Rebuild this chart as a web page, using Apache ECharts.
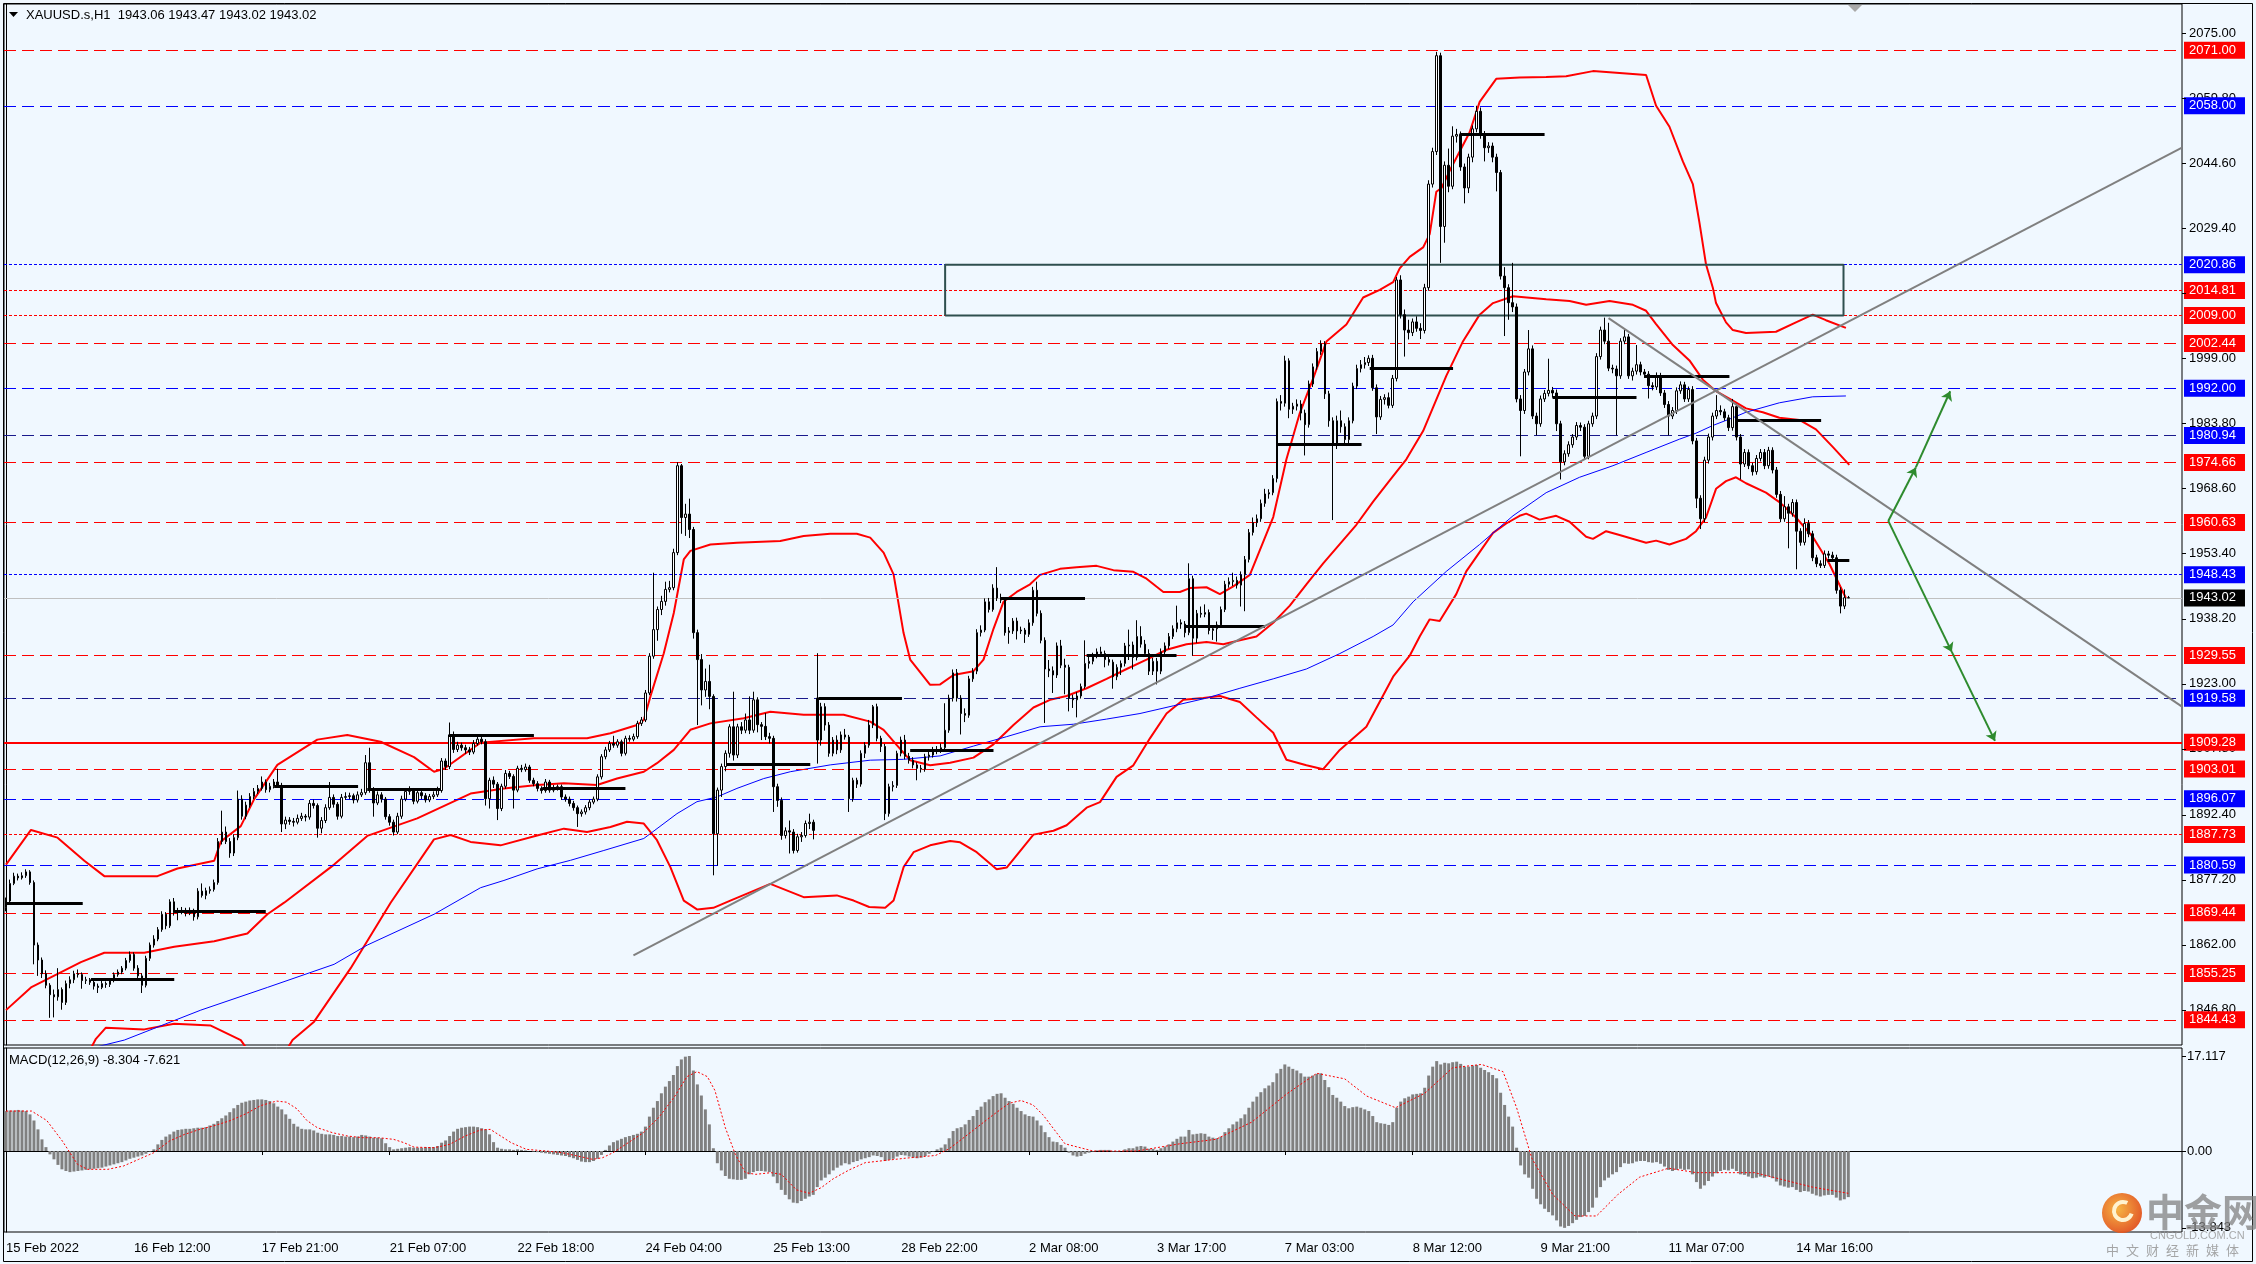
<!DOCTYPE html>
<html>
<head>
<meta charset="utf-8">
<title>XAUUSD.s,H1</title>
<script src="https://cdn.jsdelivr.net/npm/echarts@6.0.0/dist/echarts.min.js"></script>
<style>
  html, body { margin: 0; padding: 0; background: #f0f8ff; }
  #chart { width: 2256px; height: 1264px; }
</style>
</head>
<body>
<div id="chart"></div>
<script>
// ---------- data ----------
const timeLabels = ['15 Feb 2022', '16 Feb 12:00', '17 Feb 21:00', '21 Feb 07:00', '22 Feb 18:00',
  '24 Feb 04:00', '25 Feb 13:00', '28 Feb 22:00', '2 Mar 08:00', '3 Mar 17:00',
  '7 Mar 03:00', '8 Mar 12:00', '9 Mar 21:00', '11 Mar 07:00', '14 Mar 16:00'];
const timeTickBars = [0, 32, 64, 96, 128, 160, 192, 224, 256, 288, 320, 352, 384, 416, 448];

const priceTicks = [2075.00, 2059.80, 2044.60, 2029.40, 2014.20, 1999.00, 1983.80, 1968.60,
  1953.40, 1938.20, 1923.00, 1907.80, 1892.40, 1877.20, 1862.00, 1846.80];
const macdTicks = [17.117, 0, -13.843];

// H1 bars: [open, high, low, close]
const candles = [
  [1870.6,1873.0,1869.8,1872.2],[1872.2,1877.2,1871.6,1876.3],[1876.3,1878.8,1875.9,1878.0],[1878.0,1878.6,1877.0,1877.6],[1877.6,1878.9,1877.2,1878.1],
  [1878.1,1879.6,1877.6,1879.0],[1879.0,1879.4,1876.0,1876.5],[1876.5,1877.0,1857.4,1861.9],[1861.9,1862.5,1854.7,1858.4],[1858.4,1859.0,1854.2,1855.2],
  // 10
  [1855.2,1856.0,1851.8,1852.5],[1852.5,1853.0,1844.9,1850.3],[1850.3,1851.5,1845.0,1849.8],[1849.8,1856.5,1848.9,1851.5],[1851.5,1852.0,1846.8,1848.5],
  [1848.5,1853.6,1847.9,1852.9],[1852.9,1854.6,1851.8,1853.8],[1853.8,1855.9,1853.0,1855.2],[1855.2,1856.2,1854.3,1855.0],[1855.0,1855.5,1851.7,1853.6],
  // 20
  [1853.6,1854.5,1852.8,1853.8],[1853.8,1854.2,1852.6,1853.2],[1853.2,1853.6,1851.5,1852.3],[1852.3,1852.9,1850.7,1852.0],[1852.0,1853.5,1851.6,1852.9],
  [1852.9,1853.4,1851.9,1852.7],[1852.7,1854.1,1852.1,1853.6],[1853.6,1855.5,1853.2,1855.0],[1855.0,1856.2,1854.5,1855.6],[1855.6,1857.0,1855.1,1856.5],
  // 30
  [1856.5,1858.9,1856.0,1858.3],[1858.3,1860.4,1857.8,1859.7],[1859.7,1860.2,1855.9,1856.5],[1856.5,1857.2,1854.0,1854.7],[1854.7,1855.3,1850.7,1852.5],
  [1852.5,1859.4,1852.0,1858.8],[1858.8,1862.5,1858.2,1861.9],[1861.9,1864.2,1861.3,1863.3],[1863.3,1866.1,1862.8,1865.5],[1865.5,1869.8,1865.0,1869.1],
  // 40
  [1869.1,1869.6,1865.6,1866.4],[1866.4,1872.6,1865.9,1872.0],[1872.0,1872.9,1868.8,1869.5],[1869.5,1870.6,1867.7,1869.8],[1869.8,1870.8,1869.1,1870.0],
  [1870.0,1870.6,1868.6,1869.3],[1869.3,1870.7,1868.9,1870.0],[1870.0,1870.4,1867.6,1868.5],[1868.5,1875.2,1867.9,1874.5],[1874.5,1876.3,1873.0,1873.5],
  // 50
  [1873.5,1875.3,1872.6,1874.6],[1874.6,1875.6,1873.9,1874.9],[1874.9,1877.2,1874.4,1876.5],[1876.5,1886.9,1876.0,1886.1],[1886.1,1893.3,1885.4,1888.3],
  [1888.3,1889.6,1885.5,1886.1],[1886.1,1886.9,1882.3,1883.4],[1883.4,1887.8,1882.7,1887.0],[1887.0,1898.0,1886.4,1896.0],[1896.0,1896.9,1891.2,1892.0],
  // 60
  [1892.0,1895.4,1891.3,1894.6],[1894.6,1897.4,1894.0,1896.6],[1896.6,1898.6,1896.0,1897.8],[1897.8,1899.3,1897.2,1898.5],[1898.5,1901.3,1898.0,1900.0],
  [1900.0,1900.6,1897.5,1898.2],[1898.2,1899.8,1897.6,1899.0],[1899.0,1900.7,1898.5,1900.0],[1900.0,1903.1,1898.6,1899.2],[1899.2,1899.8,1888.3,1890.2],
  // 70
  [1890.2,1891.9,1889.0,1891.1],[1891.1,1891.8,1890.0,1890.8],[1890.8,1891.6,1889.6,1890.6],[1890.6,1892.4,1890.1,1891.5],[1891.5,1892.8,1890.9,1892.0],
  [1892.0,1892.5,1890.8,1891.8],[1891.8,1895.8,1891.2,1895.0],[1895.0,1895.9,1893.8,1894.5],[1894.5,1895.0,1887.0,1889.2],[1889.2,1891.8,1888.0,1891.0],
  // 80
  [1891.0,1894.8,1890.4,1894.0],[1894.0,1900.0,1893.5,1896.4],[1896.4,1897.1,1894.0,1894.8],[1894.8,1895.3,1891.2,1892.0],[1892.0,1897.2,1891.5,1896.4],
  [1896.4,1897.6,1895.8,1896.6],[1896.6,1897.5,1896.0,1896.8],[1896.8,1897.3,1895.0,1895.8],[1895.8,1897.8,1895.2,1897.0],[1897.0,1898.4,1896.5,1897.5],
  // 90
  [1897.5,1906.3,1897.0,1904.5],[1904.5,1908.0,1897.5,1898.2],[1898.2,1898.8,1891.9,1895.1],[1895.1,1897.8,1894.6,1897.0],[1897.0,1897.6,1895.2,1896.0],
  [1896.0,1896.5,1891.2,1891.9],[1891.9,1892.5,1889.8,1890.6],[1890.6,1891.2,1887.5,1888.3],[1888.3,1892.8,1887.8,1892.0],[1892.0,1896.8,1891.4,1896.0],
  // 100
  [1896.0,1898.6,1895.5,1897.8],[1897.8,1899.0,1897.0,1898.0],[1898.0,1898.6,1894.8,1895.5],[1895.5,1898.3,1895.0,1897.5],[1897.5,1898.1,1896.0,1896.8],
  [1896.8,1897.4,1895.2,1895.8],[1895.8,1897.2,1895.3,1896.6],[1896.6,1897.8,1896.0,1897.0],[1897.0,1898.9,1896.5,1898.0],[1898.0,1905.6,1897.5,1904.9],
  // 110
  [1904.9,1905.5,1902.8,1903.6],[1903.6,1913.9,1903.0,1911.0],[1911.0,1911.8,1906.8,1907.6],[1907.6,1909.4,1907.0,1908.6],[1908.6,1909.2,1907.3,1908.0],
  [1908.0,1908.7,1906.6,1907.5],[1907.5,1908.2,1906.3,1907.0],[1907.0,1909.8,1906.5,1909.0],[1909.0,1910.8,1908.5,1910.0],[1910.0,1911.2,1908.8,1909.4],
  // 120
  [1909.4,1910.0,1894.5,1896.1],[1896.1,1901.0,1893.8,1900.4],[1900.4,1901.3,1898.6,1899.5],[1899.5,1900.0,1891.1,1893.8],[1893.8,1899.6,1893.2,1899.0],
  [1899.0,1902.8,1898.4,1902.0],[1902.0,1902.6,1900.7,1901.3],[1901.3,1901.8,1893.8,1898.1],[1898.1,1903.8,1897.6,1903.2],[1903.2,1904.0,1902.3,1902.9],
  // 130
  [1902.9,1904.3,1902.4,1903.5],[1903.5,1904.0,1899.8,1900.4],[1900.4,1901.0,1899.0,1899.6],[1899.6,1900.2,1897.8,1898.5],[1898.5,1899.0,1897.3,1898.0],
  [1898.0,1900.7,1897.5,1900.0],[1900.0,1900.5,1897.5,1898.1],[1898.1,1899.3,1897.6,1898.6],[1898.6,1899.4,1898.0,1898.9],[1898.9,1899.4,1895.8,1896.5],
  // 140
  [1896.5,1897.1,1895.4,1896.0],[1896.0,1896.6,1894.3,1895.0],[1895.0,1895.6,1893.3,1894.0],[1894.0,1894.5,1889.5,1892.6],[1892.6,1893.6,1891.9,1893.0],
  [1893.0,1894.6,1892.4,1894.0],[1894.0,1895.9,1893.4,1895.3],[1895.3,1896.6,1894.8,1896.0],[1896.0,1901.8,1895.5,1901.2],[1901.2,1906.5,1900.6,1905.9],
  // 150
  [1905.9,1908.2,1905.3,1907.5],[1907.5,1909.6,1907.0,1909.0],[1909.0,1910.8,1908.0,1908.6],[1908.6,1910.0,1908.0,1909.4],[1909.4,1909.9,1906.0,1906.7],
  [1906.7,1910.8,1906.2,1910.2],[1910.2,1910.9,1909.4,1910.0],[1910.0,1911.3,1909.5,1910.6],[1910.6,1914.3,1910.1,1913.7],[1913.7,1915.2,1913.1,1914.5],
  // 160
  [1914.5,1921.5,1914.0,1920.8],[1920.8,1930.1,1920.3,1929.4],[1929.4,1948.9,1928.8,1935.6],[1935.6,1941.0,1933.0,1940.3],[1940.3,1943.5,1939.0,1942.2],
  [1942.2,1946.8,1941.2,1945.0],[1945.0,1947.0,1944.3,1945.4],[1945.4,1954.5,1944.8,1953.6],[1953.6,1974.7,1953.0,1973.9],[1973.9,1974.3,1958.0,1961.8],
  // 170
  [1961.8,1965.0,1957.5,1962.6],[1962.6,1966.2,1957.0,1959.0],[1959.0,1959.6,1933.5,1934.9],[1934.9,1935.6,1913.3,1928.6],[1928.6,1929.9,1917.9,1921.5],
  [1921.5,1926.5,1919.9,1923.5],[1923.5,1927.4,1917.0,1920.0],[1920.0,1920.5,1878.2,1887.9],[1887.9,1898.7,1880.5,1898.1],[1898.1,1904.3,1896.5,1903.6],
  // 180
  [1903.6,1907.4,1902.5,1906.7],[1906.7,1913.5,1905.7,1912.9],[1912.9,1921.1,1905.0,1906.3],[1906.3,1913.6,1905.6,1912.9],[1912.9,1914.0,1911.2,1912.1],
  [1912.1,1916.0,1911.4,1914.5],[1914.5,1920.0,1911.2,1912.1],[1912.1,1921.1,1911.5,1919.2],[1919.2,1919.8,1911.6,1913.4],[1913.4,1914.0,1909.8,1913.0],
  // 190
  [1913.0,1916.1,1909.8,1910.6],[1910.6,1911.5,1909.0,1910.2],[1910.2,1910.8,1893.0,1898.9],[1898.9,1899.6,1894.2,1895.7],[1895.7,1896.4,1886.5,1887.5],
  [1887.5,1889.4,1886.8,1888.6],[1888.6,1891.0,1883.3,1888.3],[1888.3,1889.0,1883.3,1884.0],[1884.0,1887.9,1883.5,1887.2],[1887.2,1888.3,1886.0,1887.5],
  // 200
  [1887.5,1891.0,1887.0,1890.3],[1890.3,1892.6,1889.0,1890.6],[1890.6,1891.2,1886.6,1888.7],[1919.6,1930.1,1904.3,1909.8],[1909.8,1918.5,1908.5,1917.6],
  [1917.6,1918.4,1912.0,1913.3],[1913.3,1914.0,1905.9,1906.7],[1906.7,1910.5,1906.0,1909.8],[1909.8,1910.9,1906.5,1907.5],[1907.5,1911.8,1906.8,1911.0],
  // 210
  [1911.0,1912.4,1909.9,1910.5],[1910.5,1911.0,1893.0,1896.1],[1896.1,1901.0,1895.4,1900.4],[1900.4,1901.0,1898.6,1899.5],[1899.5,1907.4,1898.9,1906.7],
  [1906.7,1909.3,1905.6,1908.6],[1908.6,1914.5,1908.0,1913.3],[1913.3,1918.0,1912.6,1917.6],[1917.6,1918.3,1909.5,1910.2],[1910.2,1910.8,1907.0,1908.3],
  // 220
  [1908.3,1908.9,1891.1,1892.6],[1892.6,1899.6,1891.9,1898.9],[1898.9,1900.2,1897.8,1899.2],[1899.2,1907.3,1898.6,1906.7],[1906.7,1910.6,1906.0,1909.8],
  [1909.8,1911.0,1905.3,1906.0],[1906.0,1906.8,1904.3,1905.1],[1905.1,1905.8,1903.2,1904.0],[1904.0,1904.6,1900.4,1903.2],[1903.2,1904.0,1902.2,1903.0],
  // 230
  [1903.0,1906.6,1902.4,1905.9],[1905.9,1907.0,1905.0,1906.3],[1906.3,1908.2,1905.7,1907.5],[1907.5,1908.4,1906.5,1907.3],[1907.3,1909.0,1906.8,1908.0],
  [1908.0,1918.4,1907.4,1912.1],[1912.1,1920.4,1911.5,1919.6],[1919.6,1926.3,1918.8,1925.5],[1925.5,1926.4,1918.8,1919.6],[1919.6,1920.3,1911.1,1916.0],
  // 240
  [1916.0,1917.2,1914.0,1915.6],[1915.6,1924.8,1915.0,1924.1],[1924.1,1926.6,1923.4,1925.9],[1925.9,1935.7,1925.2,1934.9],[1934.9,1936.6,1934.0,1935.5],
  [1935.5,1942.9,1935.0,1942.1],[1942.1,1943.0,1939.6,1940.3],[1940.3,1946.2,1939.8,1945.3],[1945.3,1950.2,1942.3,1943.0],[1943.0,1944.0,1941.8,1942.5],
  // 250
  [1942.5,1943.2,1934.2,1934.9],[1934.9,1936.2,1932.3,1935.3],[1935.3,1938.3,1934.6,1937.6],[1937.6,1938.4,1933.3,1935.3],[1935.3,1936.3,1934.6,1935.5],
  [1935.5,1936.0,1932.5,1934.5],[1934.5,1938.0,1933.9,1937.2],[1937.2,1945.6,1936.5,1944.8],[1944.8,1946.8,1938.7,1939.4],[1939.4,1940.1,1932.4,1933.1],
  // 260
  [1933.1,1933.8,1913.8,1926.4],[1926.4,1928.5,1924.5,1926.0],[1926.0,1927.0,1920.8,1925.0],[1925.0,1932.6,1924.3,1931.8],[1931.8,1933.2,1926.6,1927.3],
  [1927.3,1928.8,1920.5,1926.8],[1926.8,1927.4,1916.5,1919.6],[1919.6,1920.4,1917.3,1919.2],[1919.2,1921.0,1915.1,1920.1],[1920.1,1923.0,1919.5,1922.3],
  // 270
  [1922.3,1933.1,1921.8,1927.7],[1927.7,1929.6,1926.5,1928.2],[1928.2,1930.2,1927.5,1929.5],[1929.5,1931.2,1928.9,1930.4],[1930.4,1931.6,1929.3,1930.0],
  [1930.0,1930.7,1926.8,1928.6],[1928.6,1929.8,1927.2,1928.0],[1928.0,1928.6,1921.8,1924.6],[1924.6,1927.5,1923.8,1926.8],[1926.8,1928.4,1925.0,1927.7],
  // 280
  [1927.7,1932.5,1927.0,1931.8],[1931.8,1935.6,1928.5,1932.0],[1932.0,1932.8,1926.3,1929.1],[1929.1,1937.8,1928.4,1934.0],[1934.0,1936.4,1931.4,1932.2],
  [1932.2,1933.2,1929.2,1930.0],[1930.0,1931.0,1925.0,1925.9],[1925.9,1929.0,1925.0,1928.2],[1928.2,1929.0,1922.8,1925.9],[1925.9,1931.2,1925.2,1930.4],
  // 290
  [1930.4,1932.6,1929.7,1931.8],[1931.8,1934.8,1931.1,1934.0],[1934.0,1936.6,1933.4,1935.8],[1935.8,1941.2,1935.0,1937.2],[1937.2,1938.0,1935.8,1936.9],
  [1936.9,1937.6,1933.8,1934.9],[1934.9,1951.1,1934.3,1947.5],[1947.5,1948.2,1929.5,1933.6],[1933.6,1940.2,1932.5,1939.4],[1939.4,1941.0,1938.4,1939.2],
  // 300
  [1939.2,1941.5,1938.5,1939.6],[1939.6,1940.3,1934.5,1935.4],[1935.4,1936.6,1933.2,1935.8],[1935.8,1937.5,1932.8,1936.7],[1936.7,1941.0,1936.0,1940.3],
  [1940.3,1947.0,1939.7,1946.2],[1946.2,1947.8,1945.4,1946.8],[1946.8,1948.9,1945.8,1947.1],[1947.1,1948.0,1945.2,1946.0],[1946.0,1949.2,1941.0,1948.4],
  // 310
  [1948.4,1952.8,1939.9,1952.0],[1952.0,1959.1,1951.3,1958.3],[1958.3,1961.8,1957.6,1960.6],[1960.6,1962.5,1959.6,1961.5],[1961.5,1966.0,1960.8,1965.1],
  [1965.1,1968.5,1964.3,1967.3],[1967.3,1968.4,1966.2,1967.6],[1967.6,1971.7,1967.0,1970.9],[1970.9,1989.6,1970.0,1988.9],[1988.9,1990.4,1986.8,1988.5],
  // 320
  [1988.5,1999.6,1987.7,1998.4],[1998.4,1999.0,1985.0,1987.1],[1987.1,1988.6,1986.0,1987.8],[1987.8,1989.4,1986.8,1988.3],[1988.3,1989.2,1984.5,1986.2],
  [1986.2,1987.0,1976.3,1983.5],[1983.5,1993.8,1982.8,1993.0],[1993.0,1997.8,1992.3,1997.0],[1997.0,2001.4,1996.3,2000.6],[2000.6,2003.2,1999.8,2002.4],
  // 330
  [2002.4,2003.0,1989.5,1990.7],[1990.7,1991.4,1983.0,1984.4],[1984.4,1985.2,1961.2,1979.0],[1979.0,1985.6,1977.8,1984.4],[1984.4,1986.8,1981.6,1983.0],
  [1983.0,1983.8,1978.6,1980.0],[1980.0,1985.2,1978.6,1984.4],[1984.4,1993.3,1983.8,1992.5],[1992.5,1997.5,1991.8,1996.6],[1996.6,1998.6,1995.7,1997.5],
  // 340
  [1997.5,1999.3,1996.6,1998.0],[1998.0,1999.7,1997.2,1999.0],[1999.0,1999.8,1991.4,1992.1],[1992.1,1992.9,1981.3,1985.3],[1985.3,1990.2,1984.6,1989.4],
  [1989.4,1990.6,1988.2,1989.8],[1989.8,1991.0,1987.3,1988.0],[1988.0,1995.1,1987.4,1994.3],[1994.3,2018.0,1993.6,2017.3],[2017.3,2018.4,2008.3,2009.2],
  // 350
  [2009.2,2010.4,1999.4,2005.6],[2005.6,2008.0,2003.4,2005.0],[2005.0,2008.3,2004.2,2007.5],[2007.5,2008.8,2005.2,2006.0],[2006.0,2007.2,2003.5,2005.5],
  [2005.5,2016.4,2004.8,2015.5],[2015.5,2040.6,2014.8,2039.7],[2039.7,2048.2,2038.9,2047.3],[2047.3,2070.6,2046.5,2069.7],[2069.7,2070.4,2021.3,2029.8],
  // 360
  [2029.8,2045.0,2026.0,2044.1],[2044.1,2048.0,2037.8,2039.2],[2039.2,2053.2,2038.5,2050.9],[2050.9,2052.6,2049.4,2051.3],[2051.3,2052.0,2042.8,2043.7],
  [2043.7,2044.5,2035.2,2038.8],[2038.8,2046.8,2037.6,2046.0],[2046.0,2053.4,2044.8,2052.6],[2052.6,2058.0,2051.8,2056.7],[2056.7,2057.6,2050.3,2051.3],
  // 370
  [2051.3,2052.1,2045.0,2048.2],[2048.2,2049.5,2047.0,2048.6],[2048.6,2049.4,2044.8,2046.0],[2046.0,2046.8,2038.0,2042.4],[2042.4,2043.0,2017.4,2018.2],
  [2018.2,2020.3,2004.2,2015.5],[2015.5,2016.3,2008.0,2012.0],[2012.0,2021.3,2009.8,2011.0],[2011.0,2011.8,1988.7,1989.5],[1989.5,1990.4,1976.1,1986.8],
  // 380
  [1986.8,1996.5,1986.0,1995.8],[1995.8,2005.6,1995.0,2001.2],[2001.2,2002.0,1984.8,1985.5],[1985.5,1986.3,1981.0,1983.7],[1983.7,1990.3,1983.0,1989.5],
  [1989.5,1991.6,1988.8,1990.8],[1990.8,1998.9,1990.1,1991.5],[1991.5,1992.3,1989.8,1990.9],[1990.9,1991.7,1982.0,1983.7],[1983.7,1984.4,1970.7,1974.8],
  // 390
  [1974.8,1977.5,1974.0,1976.7],[1976.7,1979.6,1976.0,1978.8],[1978.8,1981.3,1978.1,1980.6],[1980.6,1984.1,1979.9,1983.3],[1983.3,1984.0,1982.0,1982.9],
  [1982.9,1983.6,1975.4,1976.1],[1976.1,1984.4,1975.4,1983.7],[1983.7,1986.3,1983.0,1985.5],[1985.5,2000.2,1984.8,1999.4],[1999.4,2006.4,1998.7,2005.6],
  // 400
  [2005.6,2008.5,2002.3,2003.0],[2003.0,2007.3,1996.0,1996.7],[1996.7,1997.5,1995.5,1996.5],[1996.5,1997.3,1981.0,1994.9],[1994.9,2003.7,1994.2,2003.0],
  [2003.0,2005.6,2002.3,2004.0],[2004.0,2004.7,1994.2,1994.9],[1994.9,1996.8,1993.8,1996.0],[1996.0,2002.1,1995.2,1997.5],[1997.5,1998.2,1995.0,1995.8],
  // 410
  [1995.8,1996.5,1994.4,1995.3],[1995.3,1996.0,1989.6,1992.6],[1992.6,1993.4,1991.5,1992.3],[1992.3,1995.7,1991.6,1994.9],[1994.9,1995.6,1990.2,1990.9],
  [1990.9,1991.6,1987.4,1988.2],[1988.2,1989.0,1981.0,1985.5],[1985.5,1987.6,1984.8,1986.8],[1986.8,1992.2,1986.0,1991.4],[1991.4,1993.6,1990.7,1992.8],
  // 420
  [1992.8,1993.5,1988.8,1989.5],[1989.5,1992.4,1988.8,1991.7],[1991.7,1992.5,1978.9,1979.7],[1979.7,1980.4,1964.0,1966.3],[1966.3,1967.0,1959.1,1961.5],
  [1961.5,1976.0,1960.7,1975.2],[1975.2,1981.4,1974.4,1980.6],[1980.6,1986.3,1979.8,1985.5],[1985.5,1990.4,1984.8,1986.8],[1986.8,1988.0,1985.7,1986.5],
  // 430
  [1986.5,1987.2,1984.4,1985.1],[1985.1,1985.8,1982.0,1982.8],[1982.8,1989.5,1982.1,1987.7],[1987.7,1988.4,1979.8,1980.6],[1980.6,1981.3,1970.7,1974.3],
  [1974.3,1977.8,1973.6,1977.0],[1977.0,1977.7,1973.1,1973.9],[1973.9,1974.6,1971.6,1972.5],[1972.5,1976.4,1971.8,1975.6],[1975.6,1977.8,1974.9,1977.0],
  // 440
  [1977.0,1977.8,1973.1,1973.9],[1973.9,1978.3,1973.2,1977.5],[1977.5,1978.2,1972.1,1972.9],[1972.9,1973.6,1966.4,1967.2],[1967.2,1968.0,1960.7,1961.5],
  [1961.5,1966.8,1960.8,1964.3],[1964.3,1965.0,1954.6,1962.8],[1962.8,1966.1,1962.0,1965.3],[1965.3,1966.0,1949.7,1958.6],[1958.6,1959.3,1955.2,1956.0],
  // 450
  [1956.0,1961.6,1955.3,1960.4],[1960.4,1961.2,1957.2,1958.0],[1958.0,1958.7,1951.6,1952.4],[1952.4,1953.1,1950.2,1951.0],[1951.0,1951.8,1950.0,1950.6],
  [1950.6,1954.1,1950.0,1953.3],[1953.3,1954.0,1952.2,1953.0],[1953.0,1953.8,1951.6,1952.4],[1952.4,1953.1,1944.0,1944.8],[1944.8,1945.5,1939.4,1941.1],
  // 460
  [1941.1,1945.0,1940.4,1943.06],[1943.06,1943.47,1943.02,1943.02]
];

// indicator lines as [bar, price] points
const upperBand = [[0,1880.7],[6.25,1888.8],[12.9,1887.0],[19.6,1881.6],[24.6,1878.0],[37.9,1878.0],[42.9,1879.8],[52.1,1881.6],
  [53.75,1886.1],[58.75,1889.7],[62.1,1896.0],[67.9,1904.0],[77.9,1909.9],[85.4,1911.0],[93.75,1909.4],[102.1,1905.8],[107.1,1902.4],
  [109.6,1903.1],[118.75,1909.2],[132.1,1910.2],[145.4,1910.2],[151.25,1911.4],[157.9,1913.3],[159.6,1914.5],[161.25,1920.0],
  [164.6,1930.1],[167.1,1939.5],[169.6,1952.0],[171.25,1954.0],[176.25,1955.5],[182.9,1955.9],[193.75,1956.3],[199.6,1957.5],
  [206.25,1958.0],[212.9,1958.0],[216.25,1957.1],[219.6,1953.6],[222.1,1948.5],[224.6,1934.8],[226.25,1928.6],[231.25,1922.7],
  [233.75,1922.8],[237.1,1925.0],[242.1,1925.9],[244.6,1928.6],[247.1,1935.8],[249.6,1942.1],[252.9,1944.4],[256.25,1946.2],
  [258.75,1948.4],[263.75,1949.8],[267.9,1950.2],[272.9,1950.5],[277.1,1949.5],[282.1,1949.1],[285.4,1947.5],[289.6,1944.4],
  [293.75,1944.4],[296.25,1945.3],[300.4,1945.5],[303.75,1943.9],[307.1,1945.7],[311.25,1948.4],[317.1,1961.9],[320.4,1975.4],
  [323.75,1986.2],[327.1,1994.3],[330.4,2002.9],[335.4,2006.9],[339.6,2013.2],[343.75,2015.0],[347.1,2016.8],[348.75,2020.0],
  [351.25,2022.7],[354.6,2024.9],[356.25,2028.0],[357.9,2037.9],[359.2,2038.8],[361.25,2042.8],[363.75,2047.3],[366.25,2051.8],
  [368.75,2058.9],[372.9,2064.3],[378.75,2064.6],[385.4,2064.7],[390.4,2064.9],[397.1,2066.1],[402.1,2065.8],[410.4,2065.2],
  [412.9,2058.0],[416.25,2053.1],[419.6,2045.0],[422.1,2039.7],[423.75,2030.7],[425.4,2020.9],[427.1,2015.5],[427.9,2011.9],
  [430.4,2007.4],[432.1,2005.6],[435.4,2004.9],[442.9,2005.2],[447.9,2007.4],[452.1,2009.2],[455.4,2007.9],[460.4,2006.1]];

const middleBand = [[0,1846.7],[6.25,1852.0],[18.75,1857.9],[24.6,1860.1],[34.6,1860.1],[42.1,1861.5],[52.1,1862.8],[60.4,1864.6],
  [65.4,1869.1],[69.6,1871.8],[82.1,1880.7],[90.4,1887.4],[102.9,1891.5],[116.25,1897.3],[124.6,1898.5],[132.9,1899.3],
  [139.6,1899.7],[147.9,1899.3],[152.9,1900.8],[159.6,1902.4],[162.9,1904.4],[167.1,1907.5],[171.25,1912.2],[176.25,1913.7],
  [184.6,1914.9],[191.25,1916.4],[199.6,1915.7],[209.6,1915.7],[216.25,1914.1],[219.6,1912.2],[222.9,1908.6],[226.25,1905.1],
  [231.25,1903.9],[236.25,1904.5],[242.1,1905.7],[247.1,1908.8],[252.1,1913.3],[257.1,1917.4],[261.25,1919.2],[265.4,1920.1],
  [270.4,1921.9],[275.4,1924.1],[280.4,1926.4],[285.4,1928.6],[290.4,1930.9],[295.4,1932.2],[300.4,1932.7],[304.6,1932.2],
  [308.75,1933.1],[312.9,1934.0],[317.1,1937.2],[321.25,1941.2],[325.4,1946.2],[329.6,1951.1],[333.75,1955.6],[337.9,1960.1],
  [342.1,1965.5],[346.25,1970.5],[350.4,1975.4],[354.6,1982.0],[360.4,1994.9],[364.6,2003.0],[368.75,2009.2],[372.1,2011.9],
  [377.1,2013.5],[385.4,2012.8],[391.25,2012.4],[395.4,2011.5],[401.25,2012.4],[407.1,2011.5],[410.4,2010.1],[412.9,2007.0],
  [417.1,2002.1],[421.25,1998.5],[424.6,1994.0],[427.9,1991.3],[432.1,1989.1],[435.4,1987.3],[439.6,1986.4],[443.75,1985.1],
  [448.75,1984.6],[452.9,1982.4],[457.1,1978.3],[461.25,1974.1]];

const lowerBand = [[0,1812.0],[10,1818.0],[18,1832.0],[22.5,1840.0],[25,1842.6],[34.6,1842.2],[42.1,1843.5],[51.25,1843.1],
  [58.75,1839.7],[63,1834.0],[68,1834.0],[71.7,1839.7],[77.1,1844.0],[86.25,1856.5],[96.25,1871.8],[107.1,1886.6],[111.25,1887.6],
  [116.25,1886.0],[123.75,1885.2],[132.9,1887.5],[139.6,1889.1],[145.4,1888.3],[151.25,1889.5],[155.4,1890.7],[159.6,1890.3],
  [162.9,1886.4],[166.25,1880.1],[169.6,1872.3],[173,1870.2],[177,1870.6],[181.25,1872.3],[191.25,1876.2],[199.6,1873.1],
  [207.9,1873.5],[212.1,1872.3],[216,1870.8],[220,1870.6],[222.1,1872.3],[224.6,1880.1],[227.1,1883.6],[231.25,1885.2],
  [236.25,1886.2],[238.75,1885.9],[242.9,1883.6],[247.9,1879.6],[250.4,1880.0],[257.1,1887.7],[262.1,1888.6],[265.4,1889.9],
  [270.4,1894.0],[273.75,1895.3],[277.9,1901.2],[282.1,1903.9],[286.25,1910.2],[290.4,1916.0],[294.6,1919.2],[299.6,1919.6],
  [303.75,1920.1],[308.75,1918.7],[312.9,1915.1],[317.1,1911.5],[320.4,1905.2],[325.4,1903.9],[329.6,1903.0],[333.75,1907.5],
  [340.4,1912.9],[347.1,1924.6],[351.25,1929.5],[353.75,1934.0],[356.25,1938.0],[358.75,1937.6],[362.9,1943.9],[365.4,1949.2],
  [368.75,1953.7],[372.1,1958.2],[375.4,1960.4],[378.75,1962.2],[380.4,1962.7],[383.75,1961.3],[387.9,1962.2],[391.25,1960.8],
  [395.4,1957.3],[397.1,1956.8],[400.4,1958.6],[403.75,1957.7],[410.4,1955.9],[412.9,1956.4],[416.25,1955.5],[420.4,1956.8],
  [422.9,1958.6],[425.4,1961.8],[427.9,1968.5],[430.4,1970.3],[432.9,1971.2],[435.4,1969.8],[440.4,1967.6],[443.75,1965.4],
  [447.9,1961.8],[452.1,1957.3],[456.25,1951.0],[460.4,1943.0]];

const blueMA = [[20,1837.5],[29.6,1839.7],[48.75,1846.7],[65.4,1852.0],[82.1,1857.4],[90.4,1861.9],[107.1,1869.1],[118.75,1875.3],
  [124.6,1877.0],[132.9,1879.7],[141.25,1881.7],[149.6,1884.0],[159.6,1886.8],[162.9,1889.1],[167.9,1892.6],[172.9,1895.4],
  [177.9,1896.5],[182.9,1898.5],[189.6,1900.8],[196.25,1902.4],[206.25,1904.0],[216.25,1905.1],[224.6,1905.3],[233.75,1906.1],
  [242.1,1908.4],[250.4,1910.6],[258.75,1912.9],[267.1,1913.5],[275.4,1914.7],[283.75,1916.0],[292.1,1917.8],[300.4,1919.6],
  [308.75,1921.9],[317.1,1924.1],[325.4,1926.4],[333.75,1930.0],[342.1,1934.0],[347.1,1936.7],[352.1,1942.1],[360.4,1949.2],
  [368.75,1955.5],[377.1,1962.2],[385.4,1967.6],[393.75,1971.2],[402.1,1973.9],[410.4,1977.0],[418.75,1980.1],[422.9,1981.5],
  [427.1,1983.3],[432.1,1985.1],[435.4,1986.4],[443.75,1988.6],[452.1,1990.0],[460.4,1990.2]];

// MACD(12,26,9) main line, one value per bar, drawn as histogram
const macdHist = [
  7.2,7.3,7.3,7.4,7.3,7.2,6.6,5.5,3.9,2.1,
  0.7,-0.6,-1.5,-2.5,-3.3,-3.6,-3.8,-3.7,-3.6,-3.5,
  -3.4,-3.3,-3.2,-3.1,-3.0,-2.8,-2.6,-2.4,-2.2,-2.0,
  -1.7,-1.4,-1.2,-1.0,-0.8,-0.5,-0.1,0.3,1.2,2.0,
  2.6,3.0,3.5,3.8,3.9,4.0,4.0,4.1,4.2,4.2,
  4.3,4.6,4.9,5.4,5.9,6.4,7.0,7.7,8.3,8.7,
  8.9,9.1,9.2,9.3,9.3,9.2,9.0,8.6,8.0,7.5,
  6.6,5.8,4.9,4.4,4.0,3.9,3.9,3.7,3.3,3.1,
  3.0,3.0,2.9,2.7,2.7,2.6,2.6,2.5,2.6,2.9,
  2.8,2.6,2.4,2.4,2.3,1.4,0.7,0.3,0.4,0.5,
  0.6,0.7,0.6,0.6,0.6,0.7,0.7,0.7,0.9,1.5,
  1.9,2.7,3.5,4.0,4.2,4.3,4.4,4.4,4.3,4.1,
  3.9,3.0,1.6,0.6,0.4,0.3,0.3,0.2,0.3,0.2,
  0.1,0.0,-0.1,-0.2,-0.3,-0.4,-0.5,-0.6,-0.7,-0.8,
  -0.9,-1.1,-1.3,-1.6,-1.9,-2.0,-2.0,-1.8,-1.4,-0.7,
  0.2,1.0,1.6,1.9,2.2,2.5,2.7,2.9,3.1,3.5,
  4.4,6.2,7.8,9.0,10.4,11.6,12.6,13.7,15.3,16.5,
  17.0,17.117,14.5,12.0,10.0,7.5,4.8,0.5,-2.2,-3.5,
  -4.5,-5.0,-5.1,-5.2,-5.2,-5.0,-4.2,-3.8,-3.6,-3.6,
  -3.7,-3.8,-4.6,-5.8,-7.0,-7.9,-8.7,-9.3,-9.4,-9.0,
  -8.6,-8.2,-7.9,-6.5,-5.3,-4.8,-4.2,-3.5,-3.0,-2.6,
  -2.2,-2.4,-2.0,-1.8,-1.5,-1.3,-1.1,-0.8,-0.9,-1.1,
  -1.8,-1.6,-1.4,-1.0,-0.7,-0.8,-1.0,-1.2,-1.3,-1.2,
  -0.9,-0.5,-0.1,0.3,0.6,1.2,2.3,3.6,4.1,4.3,
  4.8,5.6,6.3,7.4,8.0,8.8,9.3,9.9,10.3,10.4,
  9.6,9.0,8.5,7.8,7.2,6.6,6.3,6.2,5.5,4.6,
  3.4,2.5,1.7,1.6,1.1,0.6,-0.3,-0.8,-1.0,-0.9,
  -0.5,-0.3,-0.1,0.1,0.2,0.2,0.2,-0.1,-0.1,0.0,
  0.3,0.5,0.5,0.8,0.9,0.8,0.4,0.4,0.2,0.5,
  0.8,1.2,1.7,2.2,2.6,2.6,3.8,3.0,3.1,3.2,
  3.1,2.6,2.4,2.3,2.6,3.4,4.1,4.8,5.3,5.9,
  6.6,7.8,8.9,9.8,10.6,11.3,11.8,12.4,14.0,14.8,
  15.6,15.2,14.8,14.5,14.0,13.4,13.4,13.6,13.9,14.0,
  12.8,11.5,10.1,9.6,8.9,8.1,7.7,7.9,8.0,7.8,
  7.5,7.2,6.3,5.2,5.0,4.9,4.7,5.2,7.8,8.9,
  9.5,9.8,10.2,10.3,10.4,11.4,13.6,15.2,16.2,15.6,
  15.9,15.8,16.0,16.1,15.7,15.2,15.2,15.4,15.5,15.0,
  14.6,14.2,13.7,13.1,10.5,8.3,6.2,4.4,0.6,-2.6,
  -4.2,-4.8,-6.8,-8.6,-9.6,-10.4,-11.0,-11.6,-12.5,-13.6,
  -13.843,-13.5,-13.0,-12.4,-11.9,-11.7,-11.0,-10.2,-8.4,-6.5,
  -5.3,-4.8,-4.2,-3.8,-2.9,-2.2,-2.3,-2.2,-1.9,-1.8,
  -1.8,-2.0,-2.1,-2.0,-2.3,-2.8,-3.4,-3.6,-3.4,-3.2,
  -3.4,-3.3,-4.2,-5.6,-6.8,-6.2,-5.4,-4.6,-4.0,-3.6,
  -3.4,-3.5,-3.2,-3.6,-4.2,-4.3,-4.6,-4.9,-4.8,-4.6,
  -4.8,-4.6,-4.9,-5.5,-6.2,-6.4,-6.6,-6.5,-7.0,-7.4,
  -7.2,-7.3,-7.7,-8.0,-8.2,-8.0,-7.9,-7.9,-8.4,-8.9,
  -8.7,-8.304
];

// MACD signal line, [bar, value]
const macdSignal = [[0,7.2],[6.4,7.2],[10.2,5.5],[14.1,1.8],[17.9,-2.4],[20.4,-3.3],[25.5,-3.3],[29.4,-2.7],[33.2,-1.5],
  [37,-0.3],[40.9,1.8],[44.7,3.0],[48.5,3.9],[52.3,4.6],[56.2,5.5],[60,6.7],[63.8,8.2],[67.7,9.0],[70.2,8.8],[72.8,7.6],
  [75.3,5.5],[77.9,4.2],[81.7,3.3],[85.5,2.7],[89.3,2.4],[93.2,2.4],[97,2.1],[99.6,1.5],[102.1,0.7],[107.2,0.6],[111,1.2],
  [114.9,2.7],[118.7,3.8],[121.2,3.9],[123.8,2.7],[126.4,1.5],[130.2,0.3],[135.3,0],[139.1,-0.3],[143,-0.9],[146.8,-1.5],
  [149.3,-1.2],[151.9,-0.3],[155.7,1.5],[159.5,3.3],[163.4,6.1],[167.2,9.7],[170.4,13.4],[172.9,14.3],[175.5,13.4],
  [177.4,10.9],[180,4.2],[182.5,-0.6],[185,-3.9],[187.6,-4.2],[191.4,-3.9],[194,-4.2],[197.8,-7.0],[201,-7.6],[204,-6.6],
  [207,-5.0],[211,-3.4],[215,-2.1],[225,-1.3],[232.6,-0.8],[236,0.4],[240,2.6],[247,6.5],[251,8.6],[254,9.1],[257,8.3],
  [259.5,6.5],[265,1.3],[272,0],[283,0],[293.7,1.3],[302.7,2.1],[311.7,5.2],[320.7,10.4],[328,14.0],[335,13.0],[340.5,9.9],
  [347.7,7.8],[355,10.4],[362,15.0],[369.2,15.6],[374.6,14.3],[378,7.8],[381.8,-1.3],[387,-7.8],[392.6,-11.7],[398,-11.7],
  [403.4,-7.8],[408.8,-4.7],[416,-3.1],[423,-3.9],[430.4,-3.9],[437.6,-3.9],[444.8,-5.2],[452,-6.5],[461,-7.621]];

// horizontal levels: [price, kind]
const levels = [
  [2071.00,'redDash'],[2058.00,'blueDash'],[2020.86,'blueDot'],[2014.81,'redDot'],[2009.00,'redDot'],
  [2002.44,'redDash'],[1992.00,'blueDash'],[1980.94,'navyDash'],[1974.66,'redDash'],[1960.63,'redDash'],
  [1948.43,'blueDot'],[1943.02,'last'],[1929.55,'redDash'],[1919.58,'navyDash'],[1909.28,'redSolid'],
  [1903.01,'redDash'],[1896.07,'blueDash'],[1887.73,'redDot'],[1880.59,'blueDash'],[1869.44,'redDash'],
  [1855.25,'redDash'],[1844.43,'redDash']
];

// short black levels: [fromBar, toBar, price]
const pivotSegments = [[0,19.2,1871.6],[21.25,42.1,1853.8],[42.1,65,1869.7],[67.1,88.1,1899.1],[90.4,108.75,1898.4],
  [110.8,132.1,1911.0],[134.2,155,1898.5],[180.4,201.25,1904.1],[203.3,224.2,1919.6],[226.25,247.1,1907.4],
  [248.75,270,1943.0],[270.4,292.9,1929.5],[295,315,1936.4],[318,339.2,1979.0],[341.25,362.1,1996.7],
  [363.75,385,2051.3],[387,408,1990.0],[410,431.25,1994.9],[433,454.2,1984.6],[455.8,461.25,1951.9]];

const trendUp = [[157,1859.5],[544.5,2048.2]];
const trendDown = [[401,2008.4],[544.5,1917.6]];
const zoneBox = { fromBar: 235, toBar: 459.8, low: 2009.00, high: 2020.86 };
const arrowPaths = [
  [[471.0,1961.0],[477.9,1973.5]], [[477.9,1973.5],[486.5,1991.3]],
  [[471.0,1961.0],[486.9,1930.4]], [[486.9,1930.4],[497.7,1909.6]]
];

// ---------- chart ----------
const FONT = "'Liberation Sans', Arial, sans-serif";
const N_SLOTS = 545;
const AXIS_X = 2182;
const slots = Array.from({ length: N_SLOTS }, (_, i) => String(i));
const labelAt = {};
timeTickBars.forEach((b, k) => { labelAt[b] = timeLabels[k]; });
const isTimeTick = (i) => labelAt[i] !== undefined;

const levelStyle = {
  redDash:  { line: { color: '#ff0000', width: 1, type: [12, 6] }, bg: '#ff0000' },
  redDot:   { line: { color: '#ff0000', width: 1, type: [3, 2] },  bg: '#ff0000' },
  redSolid: { line: { color: '#ff0000', width: 2, type: 'solid' }, bg: '#ff0000' },
  blueDash: { line: { color: '#0000ff', width: 1, type: [12, 6] }, bg: '#0000ff' },
  navyDash: { line: { color: '#1a1a8c', width: 1, type: [12, 6] }, bg: '#0000ff' },
  blueDot:  { line: { color: '#0000ff', width: 1, type: [3, 2] },  bg: '#0000ff' },
  last:     { line: { color: '#c0c0c0', width: 1, type: 'solid' }, bg: '#000000' }
};

const levelMarks = levels.map(([price, kind]) => ({
  yAxis: price,
  lineStyle: levelStyle[kind].line,
  label: {
    show: true, position: 'end', distance: 2,
    formatter: price.toFixed(2),
    backgroundColor: levelStyle[kind].bg,
    color: '#ffffff', fontSize: 13, fontFamily: FONT,
    lineHeight: 13, padding: [2, 9, 2, 5]
  }
}));

const zonePath = [[zoneBox.fromBar, zoneBox.low], [zoneBox.fromBar, zoneBox.high],
  [zoneBox.toBar, zoneBox.high], [zoneBox.toBar, zoneBox.low], [zoneBox.fromBar, zoneBox.low]];

const chart = echarts.init(document.getElementById('chart'), null, { renderer: 'canvas' });

const lineSeries = (data, color, width, z) => ({
  type: 'line', xAxisIndex: 1, yAxisIndex: 0, data, symbol: 'none', showSymbol: false,
  lineStyle: { color, width }, silent: true, z, animation: false
});

const baseGraphics = [
  { type: 'rect', shape: { x: 3.5, y: 3.5, width: 2249, height: 1258 }, style: { fill: 'none', stroke: '#000', lineWidth: 1 }, silent: true, z: 50 },
  { type: 'polygon', shape: { points: [[9, 12], [18, 12], [13.5, 17]] }, style: { fill: '#000' }, z: 60 },
  { type: 'text', x: 26, y: 15, style: { text: 'XAUUSD.s,H1  1943.06 1943.47 1943.02 1943.02', fill: '#000', font: '13px ' + FONT, textVerticalAlign: 'middle' }, z: 60 },
  { type: 'text', x: 9, y: 1060, style: { text: 'MACD(12,26,9) -8.304 -7.621', fill: '#000', font: '13px ' + FONT, textVerticalAlign: 'middle' }, z: 60 },
  { type: 'polygon', shape: { points: [[1848, 5], [1862, 5], [1855, 12]] }, style: { fill: '#a9a9a9' }, z: 60 },
  // watermark
  {
    type: 'circle', shape: { cx: 2122, cy: 1213, r: 20 }, z: 70,
    style: { fill: new echarts.graphic.RadialGradient(0.4, 0.4, 0.7, [{ offset: 0, color: '#f6b13a' }, { offset: 1, color: '#e0481b' }]), opacity: 0.95 }
  },
  { type: 'arc', shape: { cx: 2123, cy: 1211, r: 9, startAngle: 0.3, endAngle: 5.2 }, style: { stroke: '#fff3d0', lineWidth: 4, fill: 'none' }, z: 71 },
  { type: 'text', x: 2146, y: 1212, style: { text: '中金网', fill: 'rgba(130,130,130,0.75)', font: 'bold 38px "Noto Sans CJK SC", sans-serif', textVerticalAlign: 'middle' }, z: 70 },
  { type: 'text', x: 2150, y: 1236, style: { text: 'CNGOLD.COM.CN', fill: 'rgba(150,150,150,0.8)', font: '11px ' + FONT, textVerticalAlign: 'middle' }, z: 70 },
  ...'中文财经新媒体'.split('').map((ch, k) => ({
    type: 'text', x: 2106 + k * 20, y: 1250,
    style: { text: ch, fill: 'rgba(150,150,150,0.85)', font: '13px "Noto Sans CJK SC", sans-serif', textVerticalAlign: 'middle' }, z: 70
  }))
];

chart.setOption({
  backgroundColor: '#f0f8ff',
  animation: false,
  grid: [
    { left: 4, top: 4, width: 2178, height: 1041, show: true, borderColor: '#000', borderWidth: 1, backgroundColor: '#f0f8ff' },
    { left: 4, top: 1048, width: 2178, height: 184, show: true, borderColor: '#000', borderWidth: 1, backgroundColor: '#f0f8ff' }
  ],
  xAxis: [
    { type: 'category', gridIndex: 0, data: slots, boundaryGap: true, show: false },
    { type: 'value', gridIndex: 0, min: -0.5, max: N_SLOTS - 0.5, show: false },
    {
      type: 'category', gridIndex: 1, data: slots, boundaryGap: true,
      axisLine: { show: true, lineStyle: { color: '#000' } },
      axisTick: { show: true, alignWithLabel: true, interval: isTimeTick, length: 4, lineStyle: { color: '#000' } },
      axisLabel: {
        interval: isTimeTick, formatter: (v, i) => labelAt[i] || '',
        align: 'left', margin: 10, color: '#000', fontSize: 13, fontFamily: FONT
      }
    },
    { type: 'value', gridIndex: 1, min: -0.5, max: N_SLOTS - 0.5, show: false }
  ],
  yAxis: [
    {
      type: 'value', gridIndex: 0, position: 'right', min: 1838.55, max: 2081.78,
      splitLine: { show: false },
      axisLine: { show: true, lineStyle: { color: '#000' } },
      axisTick: { show: false },
      axisLabel: { customValues: priceTicks, formatter: (v) => v.toFixed(2), margin: 7, color: '#000', fontSize: 13, fontFamily: FONT }
    },
    {
      type: 'value', gridIndex: 1, position: 'right', min: -14.59, max: 18.56,
      splitLine: { show: false },
      axisLine: { show: true, lineStyle: { color: '#000' } },
      axisTick: { show: false },
      axisLabel: { customValues: macdTicks, formatter: (v) => (v === 0 ? '0.00' : String(v)), margin: 5, color: '#000', fontSize: 13, fontFamily: FONT }
    }
  ],
  series: [
    // Bollinger-style envelope and slow MA
    lineSeries(upperBand, '#ff0000', 2, 2),
    lineSeries(middleBand, '#ff0000', 2, 2),
    lineSeries(lowerBand, '#ff0000', 2, 2),
    lineSeries(blueMA, '#0000ff', 1, 2),
    lineSeries(zonePath, '#2f4f4f', 2, 3),
    {
      type: 'candlestick', xAxisIndex: 0, yAxisIndex: 0,
      data: candles.map(([o, h, l, c]) => [o, c, l, h]),
      barWidth: 2,
      itemStyle: { color: '#ffffff', color0: '#000000', borderColor: '#000000', borderColor0: '#000000', borderWidth: 1 },
      silent: true, z: 4,
      markLine: { symbol: ['none', 'none'], silent: true, animation: false, data: levelMarks, z: 3 }
    },
    {
      type: 'lines', coordinateSystem: 'cartesian2d', xAxisIndex: 1, yAxisIndex: 0, silent: true, z: 5,
      data: pivotSegments.map(([a, b, p]) => ({ coords: [[a, p], [b, p]] })),
      lineStyle: { color: '#000000', width: 3, opacity: 1 }
    },
    {
      type: 'lines', coordinateSystem: 'cartesian2d', xAxisIndex: 1, yAxisIndex: 0, silent: true, z: 5,
      data: [{ coords: trendUp }, { coords: trendDown }],
      lineStyle: { color: '#808080', width: 2, opacity: 1 }
    },
    {
      type: 'lines', coordinateSystem: 'cartesian2d', xAxisIndex: 1, yAxisIndex: 0, silent: true, z: 5,
      data: arrowPaths.map((c) => ({ coords: c })),
      symbol: ['none', 'arrow'], symbolSize: 9,
      lineStyle: { color: '#2e8b2e', width: 2, opacity: 1 }
    },
    // MACD pane
    {
      type: 'bar', xAxisIndex: 2, yAxisIndex: 1, data: macdHist, barWidth: 3,
      itemStyle: { color: '#808080' }, silent: true
    },
    {
      type: 'line', xAxisIndex: 3, yAxisIndex: 1, data: macdSignal, symbol: 'none', showSymbol: false,
      lineStyle: { color: '#ff0000', width: 1, type: [2, 2] }, silent: true, z: 3
    }
  ],
  graphic: baseGraphics
});

// small right-hand axis ticks, placed through the axes' own scales
const tickMark = (y) => ({
  type: 'line', silent: true, z: 40,
  shape: { x1: AXIS_X, y1: Math.round(y) + 0.5, x2: AXIS_X + 4, y2: Math.round(y) + 0.5 },
  style: { stroke: '#000', lineWidth: 1 }
});
const axisTicks = [
  ...priceTicks.map((v) => tickMark(chart.convertToPixel({ yAxisIndex: 0 }, v))),
  ...macdTicks.map((v) => tickMark(chart.convertToPixel({ yAxisIndex: 1 }, v)))
];
chart.setOption({ graphic: baseGraphics.concat(axisTicks) });
</script>
</body>
</html>
